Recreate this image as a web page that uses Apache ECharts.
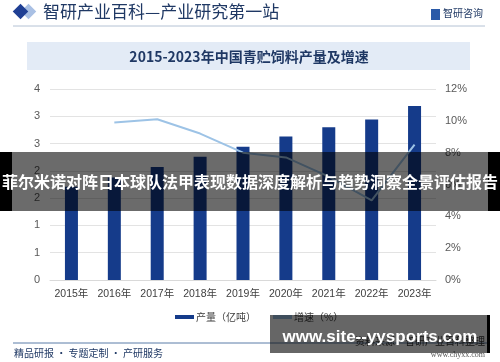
<!DOCTYPE html>
<html><head><meta charset="utf-8">
<script src="https://cdn.jsdelivr.net/npm/echarts@6/dist/echarts.min.js"></script>
<style>html,body{margin:0;padding:0;background:#fff}#c{width:500px;height:362px}</style>
</head><body><div id="c"></div>
<script>
const years = ['2015年','2016年','2017年','2018年','2019年','2020年','2021年','2022年','2023年'];
const production = [1.71, 1.88, 2.07, 2.26, 2.44, 2.63, 2.80, 2.94, 3.19];
const growth = [null, 9.9, 10.1, 9.2, 8.0, 7.7, 6.5, 5.0, 8.5];
const seriesNames = ['产量（亿吨）', '增速（%）'];
const headerText = '智研产业百科—产业研究第一站';
const titleText = '2015-2023年中国青贮饲料产量及增速';
const bannerText = '菲尔米诺对阵日本球队法甲表现数据深度解析与趋势洞察全景评估报告';
const footerLeft = '精品研报 · 专题定制 · 产研服务';
const footerSource = '资料来源：智研产业百科整理';
const footerSite = 'www.chyxx.com';
const watermarkText = 'www.site--yysports.com';

const navy = '#1f3864';
const chart = echarts.init(document.getElementById('c'), null, {renderer:'canvas'});
const cjk = '"Noto Sans CJK SC", "Noto Sans", sans-serif';
const latin = '"Liberation Sans", Arial, "Noto Sans CJK SC", sans-serif';
chart.setOption({
  backgroundColor:'#ffffff',
  animation:false,
  textStyle:{fontFamily:cjk},
  grid:{left:50, right:64, top:89, bottom:82, containLabel:false},
  legend:{
    left:170, top:307, itemWidth:19, itemHeight:4, itemGap:17,
    textStyle:{fontSize:10, color:'#404040', padding:[0,0,0,-3]},
    data:[{name:seriesNames[0], icon:'rect'},{name:seriesNames[1], icon:'rect', itemStyle:{color:'#9dc3e6'}}]
  },
  xAxis:{
    type:'category', data:years,
    axisLine:{lineStyle:{color:'#d9d9d9'}}, axisTick:{show:false},
    axisLabel:{color:'#404040', fontSize:10.5, margin:9, interval:0, fontFamily:latin}
  },
  yAxis:[{
    type:'value', min:0, max:3.5, interval:0.5,
    axisLine:{show:false}, axisTick:{show:false},
    splitLine:{lineStyle:{color:'#e3e3e3'}},
    axisLabel:{color:'#595959', fontSize:11, margin:10, formatter:v=>String(Math.round(v)), fontFamily:latin}
  },{
    type:'value', min:0, max:12, interval:2, position:'right',
    axisLine:{show:false}, axisTick:{show:false}, splitLine:{show:false},
    axisLabel:{color:'#595959', fontSize:11, margin:9, formatter:'{value}%', fontFamily:latin}
  }],
  series:[{
    name:seriesNames[0], type:'bar', data:production, barWidth:13,
    itemStyle:{color:'#153b8a'}
  },{
    name:seriesNames[1], type:'line', yAxisIndex:1, data:growth,
    symbol:'none', lineStyle:{color:'#9dc3e6', width:2}, itemStyle:{color:'#9dc3e6'}
  }],
  graphic:[
    {type:'rect', shape:{x:15,y:6,width:11,height:11}, rotation:Math.PI/4, originX:20.5, originY:11.5, style:{fill:'#a9c0e4'}, x:8, z:10},
    {type:'rect', shape:{x:15,y:6,width:11,height:11}, rotation:Math.PI/4, originX:20.5, originY:11.5, style:{fill:'#1f3f94'}, z:11},
    {type:'text', left:43, top:3, z:10, style:{text:headerText, fill:navy, font:'17px '+cjk}},
    {type:'rect', shape:{x:431,y:9,width:9,height:11}, style:{fill:'#2a5aa8'}, z:10},
    {type:'text', left:443, top:8, z:10, style:{text:'智研咨询', fill:navy, font:'10px '+cjk}},
    {type:'line', shape:{x1:13,y1:26,x2:485,y2:26}, style:{stroke:'#b4c2d4', lineWidth:1}, z:10},
    {type:'rect', shape:{x:27,y:42,width:443,height:28}, style:{fill:'#e3ebf6'}, z:1},
    {type:'text', x:249, y:57, z:10, style:{text:titleText, fill:navy, font:'bold 14px '+cjk, align:'center', verticalAlign:'middle'}},
    {type:'line', shape:{x1:13,y1:343,x2:487,y2:343}, style:{stroke:'#5a7da8', lineWidth:1}, z:10},
    {type:'text', left:14, top:348, z:10, style:{text:footerLeft, fill:navy, font:'10px '+cjk}},
    {type:'text', right:15, top:336, z:10, style:{text:footerSource, fill:'#333', font:'10px '+cjk}},
    {type:'text', right:15, top:351, z:10, style:{text:footerSite, fill:'#555', font:'8px "Liberation Serif", serif'}},
    {type:'rect', shape:{x:0,y:152,width:500,height:59}, style:{fill:'rgba(0,0,0,0.58)'}, z:50},
    {type:'rect', shape:{x:0,y:152,width:12,height:59}, style:{fill:'#000'}, z:50},
    {type:'rect', shape:{x:488,y:152,width:12,height:59}, style:{fill:'#000'}, z:50},
    {type:'text', x:250, y:182, z:51, style:{text:bannerText, fill:'#fff', font:'bold 16px '+cjk, align:'center', verticalAlign:'middle'}},
    {type:'rect', shape:{x:270,y:315,width:220,height:38}, style:{fill:'rgba(0,0,0,0.6)'}, z:50},
    {type:'rect', shape:{x:487,y:315,width:3,height:38}, style:{fill:'#000'}, z:50},
    {type:'text', x:380, y:337, z:51, style:{text:watermarkText, fill:'#fff', font:'bold 17px "Liberation Sans", Arial, sans-serif', align:'center', verticalAlign:'middle'}}
  ]
});
</script></body></html>
